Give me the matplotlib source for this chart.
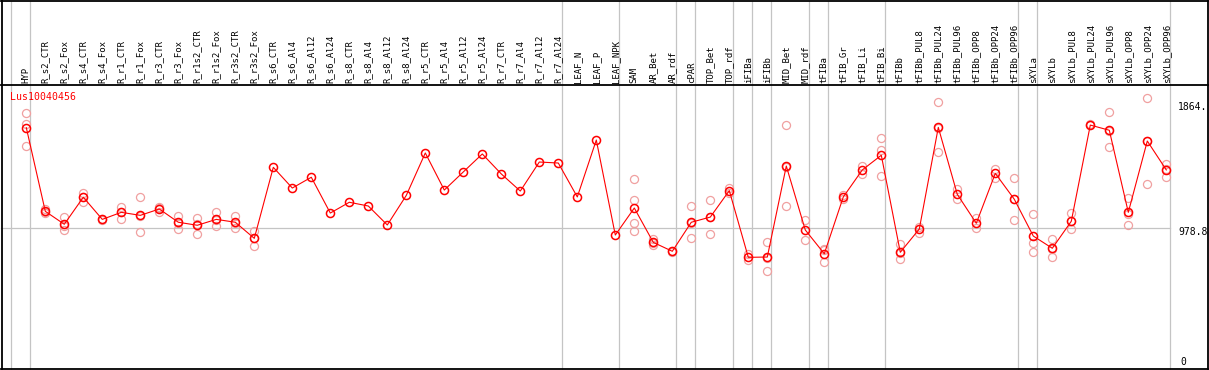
import matplotlib
matplotlib.use("Agg")
import matplotlib.pyplot as plt

# sample names along the top
samples = ["HYP", "R_s2_CTR", "R_s2_Fox", "R_s4_CTR", "R_s4_Fox", "R_r1_CTR", "R_r1_Fox",
           "R_r3_CTR", "R_r3_Fox", "R_r1s2_CTR", "R_r1s2_Fox", "R_r3s2_CTR", "R_r3s2_Fox",
           "R_s6_CTR", "R_s6_Al4", "R_s6_Al12", "R_s6_Al24", "R_s8_CTR", "R_s8_Al4",
           "R_s8_Al12", "R_s8_Al24", "R_r5_CTR", "R_r5_Al4", "R_r5_Al12", "R_r5_Al24",
           "R_r7_CTR", "R_r7_Al4", "R_r7_Al12", "R_r7_Al24", "LEAF_N", "LEAF_P", "LEAF_NPK",
           "SAM", "AR_Bet", "AR_rdf", "cPAR", "TOP_Bet", "TOP_rdf", "iFIBa", "iFIBb",
           "MID_Bet", "MID_rdf", "tFIBa", "tFIB_Gr", "tFIB_Li", "tFIB_Bi", "tFIBb",
           "tFIBb_PUL8", "tFIBb_PUL24", "tFIBb_PUL96", "tFIBb_OPP8", "tFIBb_OPP24",
           "tFIBb_OPP96", "sXYLa", "sXYLb", "sXYLb_PUL8", "sXYLb_PUL24", "sXYLb_PUL96",
           "sXYLb_OPP8", "sXYLb_OPP24", "sXYLb_OPP96"]

# mean expression per sample
means = [1674, 1092, 1002, 1190, 1036, 1085, 1064, 1108, 1016, 995, 1036, 1016, 904,
         1398, 1254, 1329, 1080, 1155, 1129, 997, 1203, 1498, 1240, 1366, 1491,
         1352, 1233, 1435, 1428, 1192, 1588, 927,
         1115, 876, 814, 1016, 1052, 1236, 772, 774, 1407, 962, 797, 1192, 1380, 1482,
         807, 969, 1676, 1210, 1009, 1356, 1176, 920, 835, 1023, 1692, 1656, 1085,
         1581, 1380]

# replicate values per sample
reps = [[1774, 1702, 1546], [1106, 1082, 1088], [1052, 960, 993], [1220, 1157, 1192],
        [1030, 1040], [1124, 1041, 1090], [1190, 946, 1057], [1124, 1087, 1113],
        [1062, 971, 1014], [1046, 934, 1004], [1087, 988, 1034], [1060, 976, 1011],
        [957, 849, 907],
        [], [], [], [], [], [], [], [], [], [], [], [], [], [], [], [], [], [], [],
        [1317, 1171, 1011, 955], [900, 858, 872], [808, 818], [1129, 904, 1013],
        [1171, 934, 1052], [1254, 1220], [795, 753], [877, 677, 770],
        [1693, 1129, 1400], [1032, 893], [832, 737, 822], [1206, 1178], [1407, 1354],
        [1600, 1517, 1336],
        [863, 758, 800], [943, 985], [1855, 1503, 1672], [1245, 1176], [1044, 978],
        [1389, 1326], [1322, 1030, 1175], [1071, 874, 807], [900, 772, 833],
        [1078, 967, 1022], [1700, 1690], [1781, 1537, 1648], [1185, 995, 1076],
        [1880, 1282, 1581], [1421, 1333, 1384]]

gene = "Lus10040456"
group_ends = [0, 28, 31, 34, 35, 37, 38, 39, 41, 42, 45, 52, 53, 60]
ref_val = 978.8
top_val = 1864

# pixel -> data mapping (19 px per sample, first sample at x=26.3; 0 at y=368.3)
px = 19.0
upx = 6.9565
W, H = 1209, 370

fig = plt.figure(figsize=(W / 100, H / 100), dpi=100)
ax = fig.add_axes([0, 0, 1, 1])
ax.set_xlim(-26.3 / px, (W - 26.3) / px)
ax.set_ylim((368.3 - H) * upx, 368.3 * upx)
ax.axis("off")

def xp(p):
    return (p - 26.3) / px

def yp(p):
    return (368.3 - p) * upx

mono = "DejaVu Sans Mono"
gray = "#c4c4c4"

# frame
ax.plot([xp(1.5), xp(1.5)], [yp(0.5), yp(368.8)], color="black", lw=1.3, zorder=5)
ax.plot([xp(1207.5), xp(1207.5)], [yp(0.5), yp(368.8)], color="black", lw=1.3, zorder=5)
ax.plot([xp(1), xp(1208)], [yp(0.5), yp(0.5)], color="black", lw=1.3, zorder=5)
ax.plot([xp(1), xp(1208)], [yp(85), yp(85)], color="black", lw=1.3, zorder=5)
ax.plot([xp(1), xp(1208)], [yp(368.8), yp(368.8)], color="black", lw=1.3, zorder=5)

# group separators
seps = [xp(10.7)] + [g + 0.21 for g in group_ends]
for s in seps:
    ax.plot([s, s], [yp(0.5), yp(368.8)], color=gray, lw=0.9, zorder=1)
ax.plot([xp(1), seps[-1]], [ref_val, ref_val], color=gray, lw=0.9, zorder=1)

# sample labels
for i, name in enumerate(samples):
    ax.text(i, yp(83), name, rotation=90, ha="center", va="bottom",
            family=mono, fontsize=6.5, color="black")

# replicates
for i, r in enumerate(reps):
    ax.plot([i] * len(r), r, ls="none", marker="o", ms=5.8, mfc="none",
            mec="#f0a0a0", mew=0.9, zorder=3)

# means
xs = list(range(len(means)))
ax.plot(xs, means, color="red", lw=0.8, marker="o", ms=5.8, mfc="none",
        mec="red", mew=1.1, zorder=4)

ax.text(xp(10), yp(97), gene, color="red", family=mono, fontsize=7.1,
        ha="left", va="center")

# value labels on the right
lx = xp(1178)
ax.annotate(f"{top_val}.", (lx, top_val), xytext=(0, -5), textcoords="offset points",
            family=mono, fontsize=7, ha="left", va="center")
ax.annotate(f"{ref_val}", (lx, ref_val), xytext=(0, -3), textcoords="offset points",
            family=mono, fontsize=7, ha="left", va="center")
ax.annotate("0", (xp(1180), 0), xytext=(0, 4.7), textcoords="offset points",
            family=mono, fontsize=7, ha="left", va="center")

fig.savefig("out.png", dpi=100)
